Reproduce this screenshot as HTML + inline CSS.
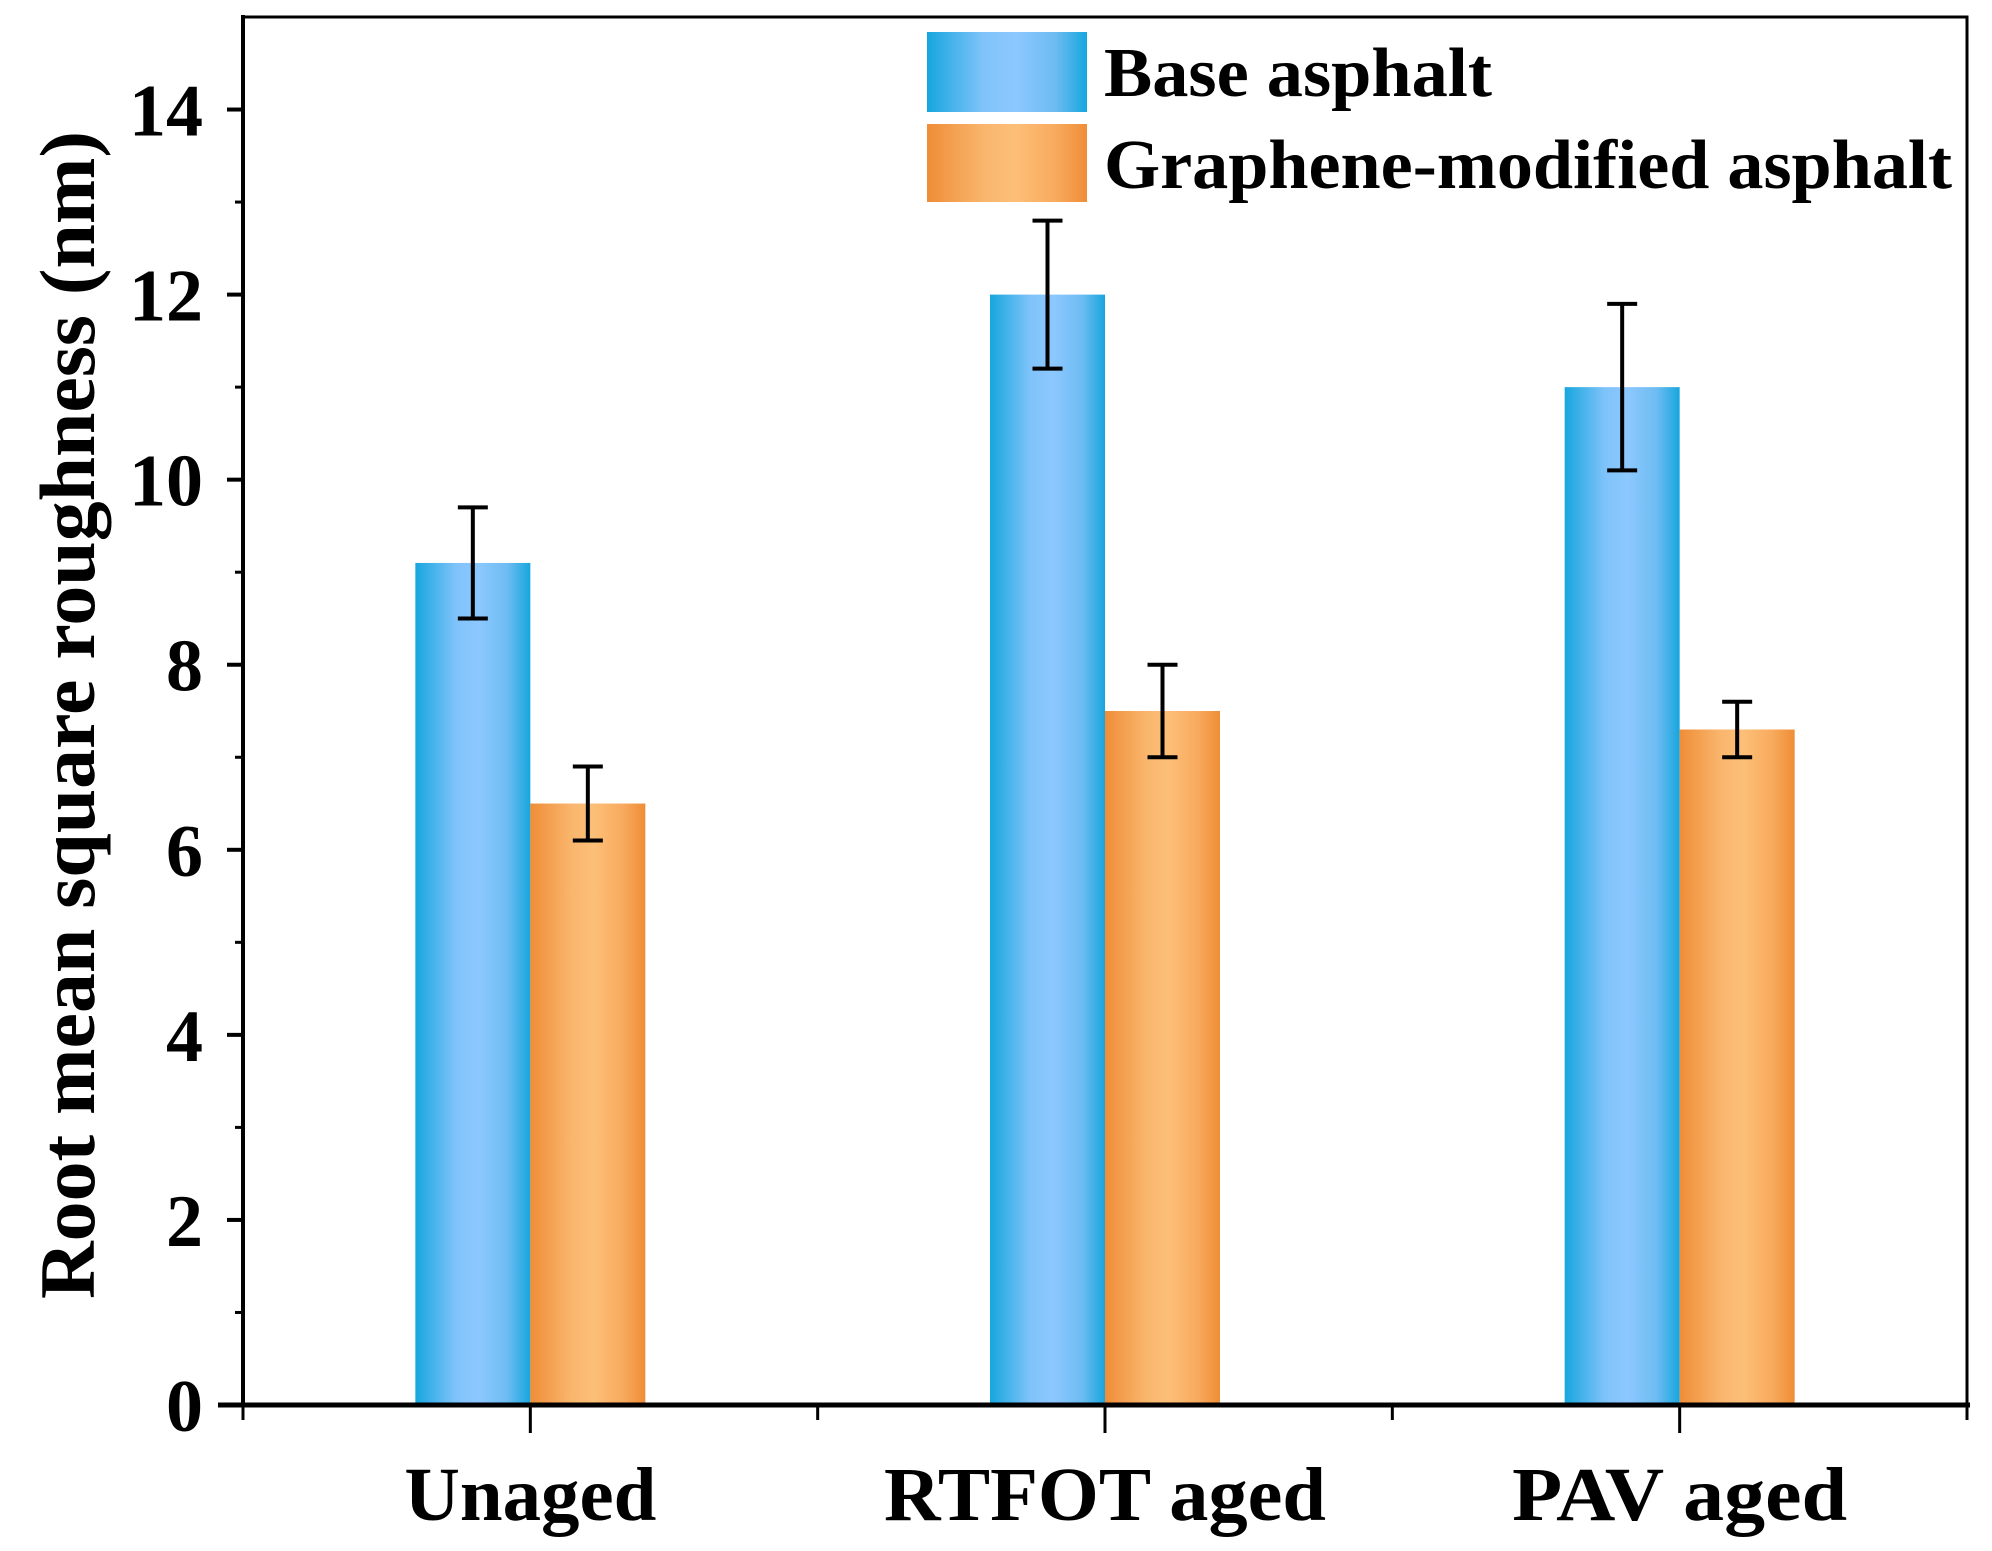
<!DOCTYPE html>
<html><head><meta charset="utf-8"><style>
html,body{margin:0;padding:0;background:#fff}
svg{display:block}
text{font-family:"Liberation Serif",serif;font-weight:bold;fill:#000}
</style></head><body>
<svg id="chart" width="1992" height="1551" viewBox="0 0 1992 1551">
<defs>
<linearGradient id="gb" x1="0" x2="1" y1="0" y2="0">
<stop offset="0" stop-color="#17a6de"/><stop offset="0.35" stop-color="#7fc3fa"/><stop offset="0.55" stop-color="#8cc8ff"/><stop offset="0.8" stop-color="#6dbcf2"/><stop offset="1" stop-color="#17a6de"/></linearGradient>
<linearGradient id="go" x1="0" x2="1" y1="0" y2="0">
<stop offset="0" stop-color="#ef8d37"/><stop offset="0.35" stop-color="#f9b56c"/><stop offset="0.55" stop-color="#fdbf78"/><stop offset="0.8" stop-color="#f8ab5e"/><stop offset="1" stop-color="#ef8d37"/></linearGradient>
</defs>
<g id="bars"></g>
<g id="axes"></g>
<text x="94" y="715" font-size="78" text-anchor="middle" textLength="1168" lengthAdjust="spacingAndGlyphs" transform="rotate(-90 94 715)">Root mean square roughness (nm)</text>
<g>
<rect x="927" y="32" width="160" height="80" fill="url(#gb)"/>
<text x="1104" y="96" font-size="70" textLength="388" lengthAdjust="spacingAndGlyphs">Base asphalt</text>
<rect x="927" y="124" width="160" height="78" fill="url(#go)"/>
<text x="1104" y="188" font-size="70" textLength="848" lengthAdjust="spacingAndGlyphs">Graphene-modified asphalt</text>
</g>
</svg>
<script>
const categories = ["Unaged", "RTFOT aged", "PAV aged"];
const baseValues = [9.1, 12.0, 11.0];
const baseErrors = [0.6, 0.8, 0.9];
const grapheneValues = [6.5, 7.5, 7.3];
const grapheneErrors = [0.4, 0.5, 0.3];
const yTicks = [0, 2, 4, 6, 8, 10, 12, 14];

const NS = "http://www.w3.org/2000/svg";
const X0 = 243, X1 = 1967, Y0 = 1405, YT = 17;
const yMax = 15;
const y = v => Y0 - (Y0 - YT) * v / yMax;
const x = i => X0 + (X1 - X0) * (i + 0.5) / categories.length;
const barW = 115;
const catW = [252, 442, 335];
function mk(tag, attrs, parent) {
  const e = document.createElementNS(NS, tag);
  for (const k in attrs) e.setAttribute(k, attrs[k]);
  parent.appendChild(e);
  return e;
}
const bars = document.getElementById("bars");
const axes = document.getElementById("axes");
function drawBar(val, err, cx, fill, name) {
  const r = mk("rect", {x: cx - barW / 2, y: y(val), width: barW, height: Y0 - y(val), fill: fill}, bars);
  
  
  const g = mk("g", {stroke: "#000", "stroke-width": 4}, bars);
  
  
  mk("line", {x1: cx, x2: cx, y1: y(val + err), y2: y(val - err)}, g);
  mk("line", {x1: cx - 15, x2: cx + 15, y1: y(val + err), y2: y(val + err)}, g);
  mk("line", {x1: cx - 15, x2: cx + 15, y1: y(val - err), y2: y(val - err)}, g);
}
categories.forEach((c, i) => {
  drawBar(baseValues[i], baseErrors[i], x(i) - barW / 2, "url(#gb)", "bar-base-" + i);
  drawBar(grapheneValues[i], grapheneErrors[i], x(i) + barW / 2, "url(#go)", "bar-graphene-" + i);
  const t = mk("text", {x: x(i), y: 1520, "font-size": 76, "text-anchor": "middle", textLength: catW[i], lengthAdjust: "spacingAndGlyphs"}, axes);
  t.textContent = c;
  
  
});
const frame = mk("rect", {x: X0, y: YT, width: X1 - X0, height: Y0 - YT, fill: "none", stroke: "#000", "stroke-width": 3}, axes);


const xl = mk("line", {x1: X0 - 25, x2: X1 + 3, y1: Y0, y2: Y0, stroke: "#000", "stroke-width": 5}, axes);


const yl = mk("line", {x1: X0, x2: X0, y1: YT - 2, y2: Y0, stroke: "#000", "stroke-width": 4}, axes);


for (let v = 1; v <= 14; v += 2) {
  const m = mk("line", {x1: X0 - 8, x2: X0, y1: y(v), y2: y(v), stroke: "#000", "stroke-width": 3}, axes);
  
  
}
yTicks.forEach(v => {
  const l = mk("line", {x1: X0 - 16, x2: X0, y1: y(v), y2: y(v), stroke: "#000", "stroke-width": 4}, axes);
  
  
  const t = mk("text", {x: 203, y: y(v) + 26, "font-size": 74, "text-anchor": "end"}, axes);
  t.textContent = v;
  
  
});
for (let i = 0; i <= categories.length; i++) {
  const xb = X0 + (X1 - X0) * i / categories.length;
  const l = mk("line", {x1: xb, x2: xb, y1: Y0, y2: Y0 + 15, stroke: "#000", "stroke-width": 3}, axes);
  
  
}
categories.forEach((c, i) => {
  const l = mk("line", {x1: x(i), x2: x(i), y1: Y0, y2: Y0 + 28, stroke: "#000", "stroke-width": 3}, axes);
  
  
});
</script>
</body></html>
